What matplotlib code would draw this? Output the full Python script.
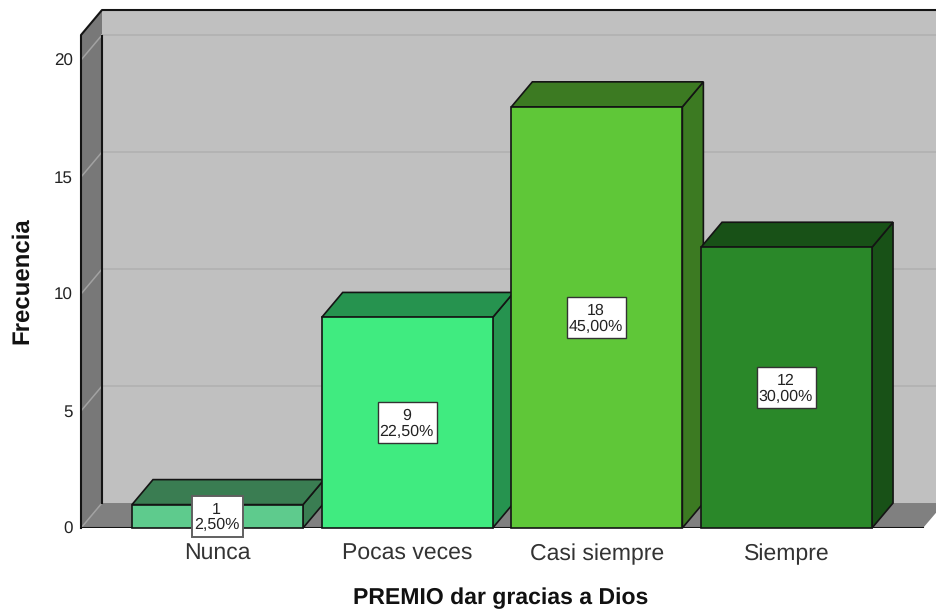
import matplotlib
matplotlib.use("Agg")
import matplotlib.pyplot as plt
from matplotlib.patches import Polygon, Rectangle

plt.rcParams["font.family"] = ["Liberation Sans", "DejaVu Sans"]
plt.rcParams["text.hinting"] = "none"
plt.rcParams["text.hinting_factor"] = 1

categories = ["Nunca", "Pocas veces", "Casi siempre", "Siempre"]
counts = [1, 9, 18, 12]
percents = ["2,50%", "22,50%", "45,00%", "30,00%"]
front_colors = ["#5ECB8D", "#40EB80", "#5FC738", "#2A8829"]
shade_colors = ["#3A7D52", "#26934F", "#3C7A22", "#185117"]
y_ticks = [0, 5, 10, 15, 20]

# 3d look: depth offset and box limits, in data units
DX = 0.1107
DY = 1.068
HALF = 0.4508
XMIN = -0.7197
XMAX = 3.788
XFLOOR = 3.7196
YTOP = 21.07
EDGE = "#141414"


def poly(ax, pts, color, edge="none", lw=1.2, z=1):
    ax.add_patch(Polygon(pts, closed=True, facecolor=color, edgecolor=edge,
                         linewidth=lw, joinstyle="miter", clip_on=False, zorder=z))


fig = plt.figure(figsize=(9.36, 6.11), dpi=100, facecolor="white")
ax = fig.add_axes([81 / 936, 83 / 611, 855 / 936, 493 / 611])
ax.set_xlim(XMIN, XMAX)
ax.set_ylim(0, YTOP)
ax.patch.set_visible(False)
for s in ax.spines.values():
    s.set_visible(False)

# walls and floor
poly(ax, [(XMIN + DX, DY), (XMAX, DY), (XMAX, YTOP + DY), (XMIN + DX, YTOP + DY)], "#C0C0C0")
poly(ax, [(XMIN, 0), (XMIN + DX, DY), (XMIN + DX, YTOP + DY), (XMIN, YTOP)], "#787878")
poly(ax, [(XMIN, 0), (XMIN + DX, DY), (XMAX, DY), (XMAX, 0.65), (XFLOOR, 0)], "#808080")

# grid lines, on the back wall and across the side wall
for t in y_ticks:
    if t > 0:
        ax.plot([XMIN + DX, XMAX], [t + DY, t + DY], color="#B2B2B2", lw=1.3, zorder=2, clip_on=False)
    ax.plot([XMIN, XMIN + DX], [t, t + DY], color="#A2A2A2", lw=1.1, zorder=2, clip_on=False)

# wall outlines
ax.plot([XMIN, XMIN, XMIN + DX, XMAX], [0, YTOP, YTOP + DY, YTOP + DY], color=EDGE, lw=1.5, zorder=3, clip_on=False)
ax.plot([XMIN + DX, XMIN + DX], [DY, YTOP + DY], color=EDGE, lw=1.5, zorder=3)
ax.plot([XMIN, XFLOOR], [0, 0], color=EDGE, lw=1.5, zorder=3)

# bars
for i, v in enumerate(counts):
    l, r = i - HALF, i + HALF
    z = 4 + i
    poly(ax, [(r, 0), (r + DX, DY), (r + DX, v + DY), (r, v)], shade_colors[i], EDGE, z=z)
    poly(ax, [(l, v), (l + DX, v + DY), (r + DX, v + DY), (r, v)], shade_colors[i], EDGE, z=z)
    poly(ax, [(l, 0), (r, 0), (r, v), (l, v)], front_colors[i], EDGE, z=z)

# value labels, box size fixed like the original
BOX_H = 41 / 23.4
for i, v in enumerate(counts):
    w = (51 if i == 0 else 59) / 189.67
    ax.add_patch(Rectangle((i - w / 2, v / 2 - BOX_H / 2), w, BOX_H, facecolor="white",
                           edgecolor="#606060" if i == 0 else "#333333",
                           linewidth=1.4 if i == 0 else 1.0, clip_on=False, zorder=19))
    ax.text(i - 0.005, v / 2 - 0.05, f"{v}\n{percents[i]}", ha="center", va="center", fontsize=11.5,
            linespacing=1.05, color="#222222", zorder=20, clip_on=False)

ax.set_xticks(range(len(categories)))
ax.set_xticklabels(categories, fontsize=16.6, color="#333333")
ax.set_yticks(y_ticks)
ax.set_yticklabels([str(t) for t in y_ticks], fontsize=12, color="#222222")
ax.tick_params(axis="x", length=0, pad=23)
ax.tick_params(axis="y", length=0, pad=6)
for lab in ax.get_xticklabels():
    lab.set_va("baseline")
for lab in ax.get_yticklabels():
    lab.set_va("center_baseline")

ax.set_xlabel("PREMIO dar gracias a Dios", fontsize=16.6, fontweight="bold", color="#111111")
ax.xaxis.set_label_coords((501 - 81) / 855, -(598 - 528) / 493, transform=ax.transAxes)
ax.xaxis.label.set_va("center")
ax.set_ylabel("Frecuencia", fontsize=17.2, fontweight="bold", color="#111111")
ax.yaxis.set_label_coords((22 - 81) / 855, (528 - 281) / 493, transform=ax.transAxes)
ax.yaxis.label.set_va("center")

fig.savefig("out.png", dpi=100)
